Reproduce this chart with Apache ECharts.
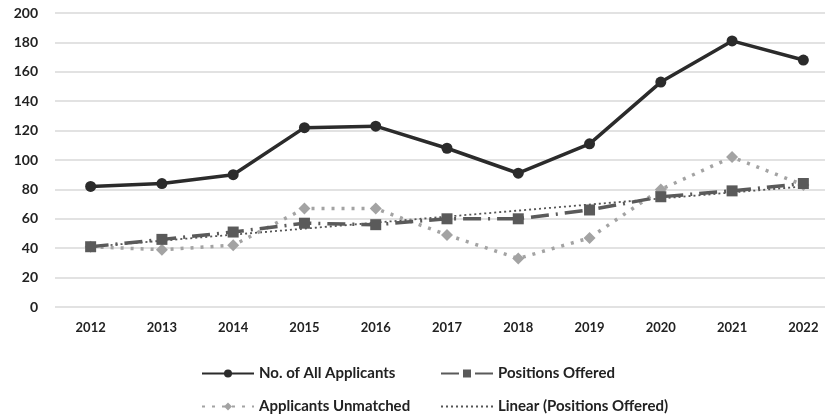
<!DOCTYPE html>
<html>
<head>
<meta charset="utf-8">
<script src="https://cdn.jsdelivr.net/npm/echarts@6/dist/echarts.min.js"></script>
<style>
  html, body { margin: 0; padding: 0; background: #fff; }
  #chart { width: 825px; height: 415px; }
</style>
</head>
<body>
<div id="chart"></div>
<script>
// Values.
var years = ['2012', '2013', '2014', '2015', '2016', '2017', '2018', '2019', '2020', '2021', '2022'];
var allApplicants = [82, 84, 90, 122, 123, 108, 91, 111, 153, 181, 168];
var positionsOffered = [41, 46, 51, 57, 56, 60, 60, 66, 75, 79, 84];
var applicantsUnmatched = [41, 39, 42, 67, 67, 49, 33, 47, 80, 102, 83];
// Trend line ends (first and last year), gaps are joined by the library.
var linearPositions = [41, null, null, null, null, null, null, null, null, null, 82];

var chartDom = document.getElementById('chart');
var chart = echarts.init(chartDom);
var font = 'Lato, "Open Sans", sans-serif';

var legendBase = {
    orient: 'horizontal',
    itemWidth: 52,
    itemHeight: 10,
    itemGap: 0,
    textStyle: {fontFamily: font, fontSize: 15, color: '#222', fontWeight: 'bold'}
};

var option = {
    animation: false,
    // plot area runs past the right edge, as in the cropped original
    grid: {left: 55, right: -14, top: 13, bottom: 108, outerBoundsMode: 'none'},
    legend: [
        Object.assign({}, legendBase, {data: ['No. of All Applicants'], left: 196, top: 361}),
        Object.assign({}, legendBase, {data: ['Positions Offered'], left: 435, top: 361}),
        Object.assign({}, legendBase, {data: ['Applicants Unmatched'], left: 196, top: 394}),
        Object.assign({}, legendBase, {
            data: [{name: 'Linear (Positions Offered)', itemStyle: {opacity: 0}}],
            left: 435, top: 394
        })
    ],
    xAxis: {
        type: 'category',
        data: years,
        boundaryGap: true,
        axisLine: {show: false},
        axisTick: {show: false},
        axisLabel: {fontFamily: font, fontSize: 13, fontWeight: 'bold', color: '#222', margin: 14}
    },
    yAxis: {
        type: 'value',
        min: 0,
        max: 200,
        interval: 20,
        axisLine: {show: false},
        axisTick: {show: false},
        axisLabel: {fontFamily: font, fontSize: 14, fontWeight: 'bold', color: '#222', margin: 17},
        splitLine: {lineStyle: {color: '#d9d9d9', width: 1.5}}
    },
    series: [
        {
            name: 'No. of All Applicants',
            type: 'line',
            data: allApplicants,
            symbol: 'circle',
            symbolSize: 11,
            itemStyle: {color: '#2b2b2b'},
            lineStyle: {color: '#2b2b2b', width: 3.5},
            z: 5
        },
        {
            name: 'Positions Offered',
            type: 'line',
            data: positionsOffered,
            symbol: 'rect',
            symbolSize: 11,
            itemStyle: {color: '#5a5a5a'},
            lineStyle: {color: '#5a5a5a', width: 3.5, type: [18, 7, 2, 7]},
            z: 4
        },
        {
            name: 'Applicants Unmatched',
            type: 'line',
            data: applicantsUnmatched,
            symbol: 'diamond',
            symbolSize: 12,
            itemStyle: {color: '#a3a3a3'},
            lineStyle: {color: '#a3a3a3', width: 3.5, type: [3, 7]},
            z: 3
        },
        {
            name: 'Linear (Positions Offered)',
            type: 'line',
            data: linearPositions,
            connectNulls: true,
            symbol: 'none',
            itemStyle: {color: '#555'},
            lineStyle: {color: '#555', width: 1.8, type: [2, 3]},
            z: 2
        }
    ]
};

option && chart.setOption(option);
</script>
</body>
</html>
